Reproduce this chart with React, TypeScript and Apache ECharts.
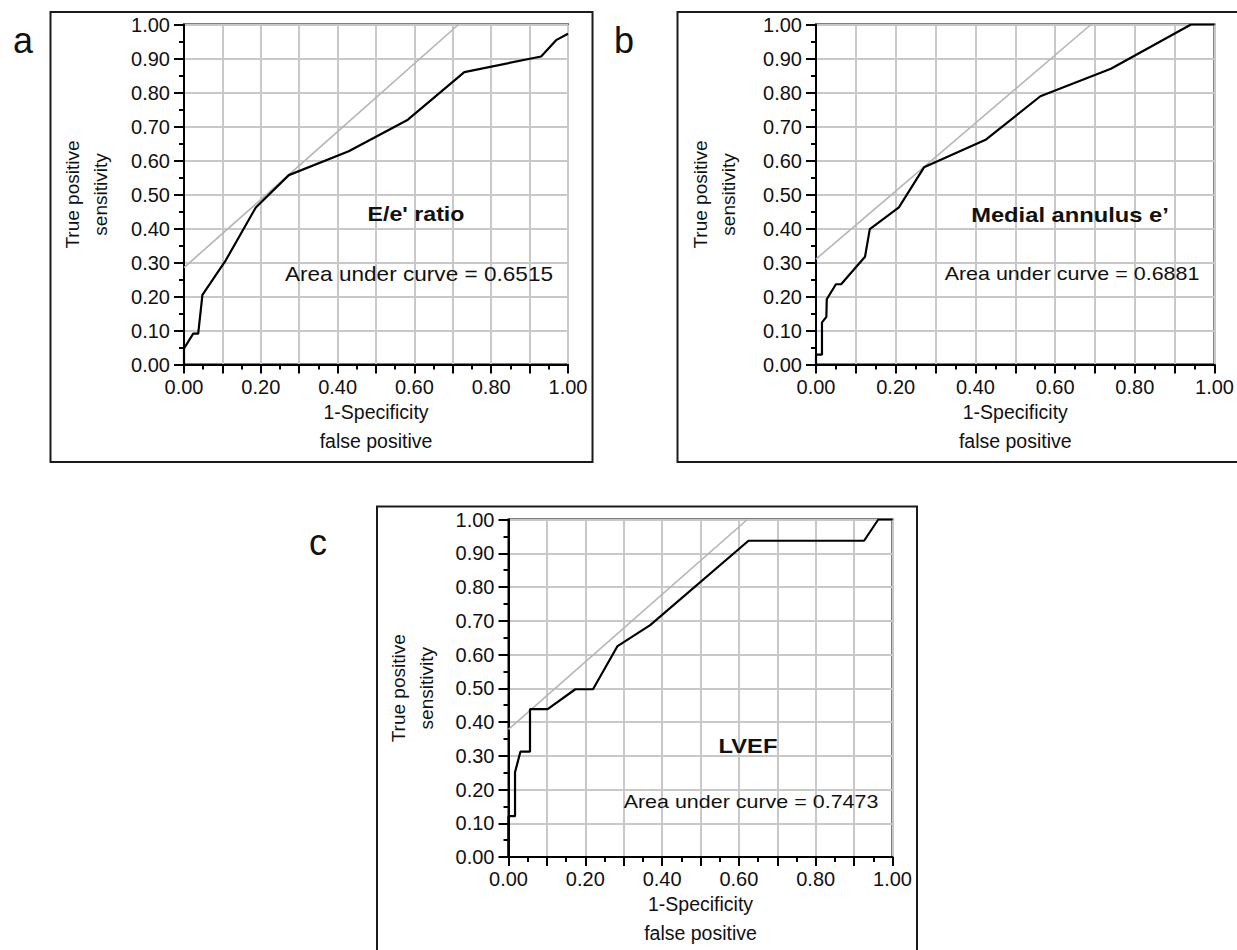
import React, { useEffect, useRef } from 'react';
import * as echarts from 'echarts';

// ---- Data (1-specificity, sensitivity) ----
// Panel a: E/e' ratio
const fprA = [0, 0, 0.024, 0.037, 0.048, 0.107, 0.187, 0.273, 0.429, 0.583, 0.73, 0.93, 0.969, 1.0];
const tprA = [0, 0.047, 0.091, 0.091, 0.205, 0.303, 0.462, 0.557, 0.627, 0.72, 0.86, 0.906, 0.954, 0.973];
const refLineA = [[0, 0.285], [0.715, 1]];
const titleA = "E/e' ratio";
const aucA = 'Area under curve = 0.6515';

// Panel b: Medial annulus e'
const fprB = [0, 0, 0.015, 0.015, 0.026, 0.027, 0.05, 0.063, 0.123, 0.135, 0.208, 0.271, 0.427, 0.563, 0.74, 0.941, 1.0];
const tprB = [0, 0.029, 0.029, 0.124, 0.14, 0.192, 0.236, 0.236, 0.317, 0.398, 0.462, 0.58, 0.662, 0.789, 0.87, 1.0, 1.0];
const refLineB = [[0, 0.31], [0.69, 1]];
const titleB = 'Medial annulus e\u2019';
const aucB = 'Area under curve = 0.6881';

// Panel c: LVEF
const fprC = [0, 0, 0.017, 0.017, 0.031, 0.056, 0.056, 0.102, 0.174, 0.22, 0.284, 0.369, 0.625, 0.926, 0.963, 1.0];
const tprC = [0, 0.121, 0.121, 0.251, 0.312, 0.312, 0.438, 0.438, 0.497, 0.497, 0.625, 0.687, 0.937, 0.937, 1.0, 1.0];
const refLineC = [[0, 0.378], [0.622, 1]];
const titleC = 'LVEF';
const aucC = 'Area under curve = 0.7473';

const panelLetters = ['a', 'b', 'c'];
const xAxisName = '1-Specificity\nfalse positive';
const yAxisName = 'True positive\nsensitivity';

const FONT = '"Liberation Sans", Arial, Helvetica, sans-serif';

const zip = (xs: number[], ys: number[]) => xs.map((x, i) => [x, ys[i]]);

const grids = [
  { left: 184, top: 24.5, width: 384, height: 340 },
  { left: 816, top: 24.5, width: 400.5, height: 340 },
  { left: 508.5, top: 519.5, width: 384, height: 337.5 },
];
const yNameGaps = [70, 74, 68];

function makeX(i: number) {
  return {
    gridIndex: i,
    type: 'value',
    min: 0,
    max: 1,
    interval: 0.1,
    name: xAxisName,
    nameLocation: 'middle',
    nameGap: 32,
    nameTextStyle: { fontFamily: FONT, fontSize: 19.5, color: '#111', lineHeight: 29 },
    axisLine: { show: true, onZero: false, lineStyle: { color: '#000', width: 2 } },
    axisTick: { show: true, length: 9, lineStyle: { color: '#000', width: 2 } },
    minorTick: { show: true, splitNumber: 2, length: 5, lineStyle: { color: '#000', width: 2 } },
    axisLabel: {
      margin: 12,
      fontFamily: FONT,
      fontSize: 20,
      color: '#111',
      formatter: (v: number) => (Math.round(v * 10) % 2 === 0 ? v.toFixed(2) : ''),
    },
    splitLine: { show: true, lineStyle: { color: '#c8c8c8', width: 2 } },
  };
}

function makeY(i: number) {
  return {
    gridIndex: i,
    type: 'value',
    min: 0,
    max: 1,
    interval: 0.1,
    name: yAxisName,
    nameLocation: 'middle',
    nameRotate: 90,
    nameGap: yNameGaps[i],
    nameTextStyle: { fontFamily: FONT, fontSize: 19, color: '#111', lineHeight: 28 },
    axisLine: { show: true, onZero: false, lineStyle: { color: '#000', width: 2 } },
    axisTick: { show: true, length: 10, lineStyle: { color: '#000', width: 2 } },
    minorTick: { show: true, splitNumber: 2, length: 5, lineStyle: { color: '#000', width: 2 } },
    axisLabel: {
      margin: 14,
      fontFamily: FONT,
      fontSize: 20,
      color: '#111',
      formatter: (v: number) => v.toFixed(2),
    },
    splitLine: { show: true, lineStyle: { color: '#c8c8c8', width: 2 } },
  };
}

function rocSeries(i: number, xs: number[], ys: number[]) {
  return {
    type: 'line',
    xAxisIndex: i,
    yAxisIndex: i,
    data: zip(xs, ys),
    showSymbol: false,
    symbol: 'none',
    lineStyle: { color: '#000', width: 2.2 },
    z: 5,
  };
}

function refSeries(i: number, pts: number[][]) {
  return {
    type: 'line',
    xAxisIndex: i,
    yAxisIndex: i,
    data: pts,
    showSymbol: false,
    symbol: 'none',
    lineStyle: { color: '#b4b4b4', width: 1.6 },
    z: 4,
  };
}

function label(text: string, x: number, y: number, size: number, bold: boolean, sx = 1.13) {
  return {
    type: 'text',
    x,
    y,
    scaleX: sx,
    z: 10,
    style: {
      text,
      x: 0,
      y: 0,
      align: 'center',
      verticalAlign: 'middle',
      fontFamily: FONT,
      fontSize: size,
      fontWeight: bold ? 'bold' : 'normal',
      fill: '#111',
    },
  };
}

function frame(x: number, y: number, w: number, h: number) {
  return {
    type: 'rect',
    shape: { x, y, width: w, height: h },
    style: { fill: 'none', stroke: '#1a1a1a', lineWidth: 2 },
    z: 1,
  };
}

export default function App() {
  const ref = useRef<HTMLDivElement>(null);
  useEffect(() => {
    if (!ref.current) return;
    const chart = echarts.init(ref.current, undefined, { renderer: 'svg' });
    chart.setOption({
      animation: false,
      backgroundColor: '#fff',
      grid: grids.map((g) => ({ ...g, show: true, borderColor: '#000', borderWidth: 2, backgroundColor: 'transparent' })),
      xAxis: [0, 1, 2].map(makeX),
      yAxis: [0, 1, 2].map(makeY),
      series: [
        refSeries(0, refLineA),
        rocSeries(0, fprA, tprA),
        refSeries(1, refLineB),
        rocSeries(1, fprB, tprB),
        refSeries(2, refLineC),
        rocSeries(2, fprC, tprC),
      ],
      graphic: [
        frame(50.5, 12, 542, 450),
        frame(677.5, 12, 620, 450),
        frame(377, 506.5, 540, 520),
        label(panelLetters[0], 23, 40.5, 36, false, 1),
        label(panelLetters[1], 624, 40.5, 36, false, 1),
        label(panelLetters[2], 318, 542.5, 36, false, 1),
        label(titleA, 416, 214, 20.5, true),
        label(aucA, 419, 274, 20, false),
        label(titleB, 1070, 215, 21, true),
        label(aucB, 1072, 273, 19, false),
        label(titleC, 748, 746, 21, true),
        label(aucC, 751, 801, 19, false),
      ],
    });
    return () => chart.dispose();
  }, []);
  return (
    <div
      ref={ref}
      style={{ position: 'absolute', left: 0, top: 0, width: 1237, height: 950, background: '#fff' }}
    />
  );
}
